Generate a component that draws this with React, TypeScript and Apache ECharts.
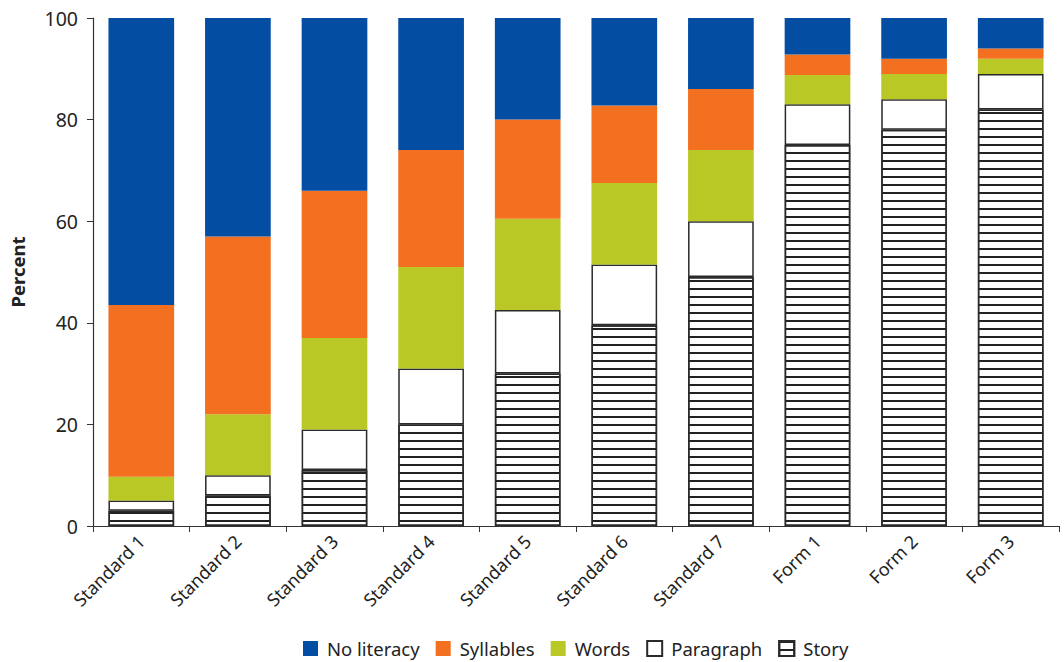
import React, { useEffect, useRef } from "react";
import * as echarts from "echarts";

const categories = ["Standard 1", "Standard 2", "Standard 3", "Standard 4", "Standard 5", "Standard 6", "Standard 7", "Form 1", "Form 2", "Form 3"];
const story = [3, 6, 11, 20, 30, 39.5, 49, 75, 78, 82];
const paragraph = [2, 4, 8, 11, 12.5, 12, 11, 8, 6, 7];
const words = [4.7, 12, 18, 20, 18, 16, 14, 5.8, 5, 3];
const syllables = [33.8, 35, 29, 23, 19.5, 15.3, 12, 4, 3, 2];
const noLiteracy = [56.5, 43, 34, 26, 20, 17.2, 14, 7.2, 8, 6];
const yTicks = [0, 20, 40, 60, 80, 100];

const FONT = "'Noto Sans', sans-serif";

export default function App() {
  const ref = useRef<HTMLDivElement>(null);
  useEffect(() => {
    if (!ref.current) return;
    const chart = echarts.init(ref.current, undefined, { renderer: "svg" });
    const outline = { borderColor: "#2a2a2a", borderWidth: 1.5 };
    chart.setOption({
      animation: false,
      textStyle: { fontFamily: FONT },
      grid: { left: 93, right: 5, top: 18, bottom: 136, containLabel: false },
      legend: {
        top: 637,
        left: 298,
        padding: [2, 5, 2, 5],
        icon: "rect",
        itemWidth: 15,
        itemHeight: 15,
        itemGap: 16,
        textStyle: { fontSize: 18.5, color: "#222", fontFamily: FONT, padding: [0, 0, 0, 4] },
        data: ["No literacy", "Syllables", "Words", "Paragraph", "Story"],
      },
      xAxis: {
        type: "category",
        data: categories,
        axisLine: { lineStyle: { color: "#333", width: 1.2 } },
        axisTick: { show: true, length: 6, lineStyle: { color: "#333" } },
        axisLabel: { rotate: 45, fontSize: 18, color: "#222", margin: 12, fontFamily: FONT },
      },
      yAxis: {
        type: "value",
        min: 0,
        max: 100,
        interval: 20,
        name: "Percent",
        nameLocation: "middle",
        nameGap: 66,
        nameTextStyle: { fontSize: 18.5, fontWeight: "bold", color: "#222", fontFamily: FONT },
        axisLine: { show: true, lineStyle: { color: "#333", width: 1.2 } },
        axisTick: { show: true, length: 6, lineStyle: { color: "#333" } },
        axisLabel: {
          fontSize: 19.5,
          color: "#222",
          margin: 15,
          fontFamily: FONT,
          formatter: (v: number) => (yTicks.includes(v) ? String(v) : ""),
        },
        splitLine: { show: false },
      },
      series: [
        {
          name: "Story",
          type: "bar",
          stack: "total",
          barWidth: "68%",
          data: story,
          itemStyle: {
            color: "#ffffff",
            ...outline,
            decal: {
              symbol: "rect",
              symbolSize: 1,
              color: "#222",
              dashArrayX: [1, 0],
              dashArrayY: [1.6, 5.4],
              rotation: 0,
            },
          },
        },
        { name: "Paragraph", type: "bar", stack: "total", data: paragraph, itemStyle: { color: "#ffffff", ...outline } },
        { name: "Words", type: "bar", stack: "total", data: words, itemStyle: { color: "#bac826" } },
        { name: "Syllables", type: "bar", stack: "total", data: syllables, itemStyle: { color: "#f37021" } },
        { name: "No literacy", type: "bar", stack: "total", data: noLiteracy, itemStyle: { color: "#034ea2" } },
      ],
    });
    return () => chart.dispose();
  }, []);
  return <div ref={ref} style={{ width: 1064, height: 662, position: "absolute", left: 0, top: 0 }} />;
}
